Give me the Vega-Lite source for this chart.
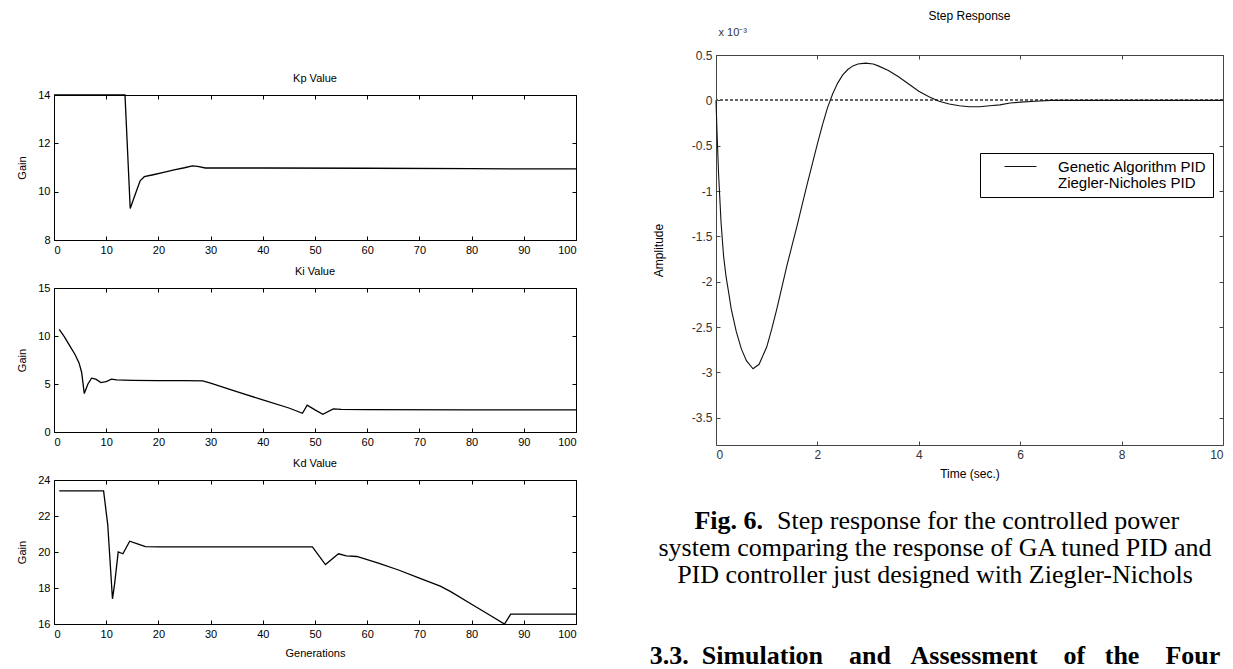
{
  "$schema": "https://vega.github.io/schema/vega-lite/v6.json",
  "padding": {"left": 16, "top": 9, "right": 0, "bottom": 0},
  "background": "white",
  "config": {
    "font": "Liberation Sans",
    "view": {"stroke": "black", "strokeWidth": 1},
    "axis": {
      "domain": false, "grid": false, "tickSize": -4, "tickColor": "black", "tickWidth": 1,
      "labelFont": "Liberation Sans", "labelFontSize": 11, "labelColor": "black", "labelPadding": 8,
      "titleFont": "Liberation Sans", "titleFontSize": 11, "titleFontWeight": "normal", "titleColor": "black"
    },
    "title": {"font": "Liberation Sans", "fontSize": 11, "fontWeight": "normal", "color": "black"}
  },
  "datasets": {
    "kp": [
      {"gen": 0, "gain": 14}, {"gen": 13.6, "gain": 14}, {"gen": 14.6, "gain": 9.3}, {"gen": 15.5, "gain": 9.85},
      {"gen": 16.5, "gain": 10.45}, {"gen": 17.3, "gain": 10.62}, {"gen": 19, "gain": 10.7}, {"gen": 21, "gain": 10.8},
      {"gen": 23, "gain": 10.9}, {"gen": 25, "gain": 10.99}, {"gen": 26.5, "gain": 11.07}, {"gen": 27.5, "gain": 11.05},
      {"gen": 29, "gain": 10.98}, {"gen": 40, "gain": 10.98}, {"gen": 60, "gain": 10.97}, {"gen": 80, "gain": 10.95},
      {"gen": 100, "gain": 10.94}
    ],
    "ki": [
      {"gen": 1, "gain": 10.7}, {"gen": 2, "gain": 9.9}, {"gen": 3, "gain": 9.0}, {"gen": 4, "gain": 8.1},
      {"gen": 4.8, "gain": 7.2}, {"gen": 5.3, "gain": 6.2}, {"gen": 5.8, "gain": 4.0}, {"gen": 6.5, "gain": 5.0},
      {"gen": 7.2, "gain": 5.6}, {"gen": 8, "gain": 5.5}, {"gen": 9, "gain": 5.15}, {"gen": 10, "gain": 5.25},
      {"gen": 11, "gain": 5.5}, {"gen": 12, "gain": 5.42}, {"gen": 15, "gain": 5.38}, {"gen": 20, "gain": 5.36},
      {"gen": 25, "gain": 5.35}, {"gen": 28.5, "gain": 5.33}, {"gen": 30, "gain": 5.1}, {"gen": 35, "gain": 4.2},
      {"gen": 40, "gain": 3.35}, {"gen": 45, "gain": 2.5}, {"gen": 47.6, "gain": 1.95}, {"gen": 48.5, "gain": 2.8},
      {"gen": 50, "gain": 2.3}, {"gen": 51.5, "gain": 1.85}, {"gen": 53.5, "gain": 2.4}, {"gen": 55, "gain": 2.35},
      {"gen": 60, "gain": 2.33}, {"gen": 80, "gain": 2.3}, {"gen": 100, "gain": 2.3}
    ],
    "kd": [
      {"gen": 1, "gain": 23.4}, {"gen": 9.5, "gain": 23.4}, {"gen": 10.3, "gain": 21.5}, {"gen": 11.2, "gain": 17.4},
      {"gen": 11.6, "gain": 18.2}, {"gen": 12.3, "gain": 20.0}, {"gen": 13.2, "gain": 19.9}, {"gen": 14.5, "gain": 20.6},
      {"gen": 16, "gain": 20.45}, {"gen": 17.5, "gain": 20.3}, {"gen": 20, "gain": 20.28}, {"gen": 30, "gain": 20.28},
      {"gen": 40, "gain": 20.28}, {"gen": 49.5, "gain": 20.28}, {"gen": 52, "gain": 19.3}, {"gen": 54.5, "gain": 19.9},
      {"gen": 56, "gain": 19.78}, {"gen": 58, "gain": 19.75}, {"gen": 62, "gain": 19.4}, {"gen": 66, "gain": 19.0},
      {"gen": 70, "gain": 18.55}, {"gen": 74, "gain": 18.1}, {"gen": 76, "gain": 17.8}, {"gen": 80, "gain": 17.1},
      {"gen": 84, "gain": 16.4}, {"gen": 86.3, "gain": 16.0}, {"gen": 87.5, "gain": 16.55}, {"gen": 100, "gain": 16.55}
    ],
    "step": [
      {"series": "Genetic Algorithm PID", "t": 0, "amp": 0},
      {"series": "Genetic Algorithm PID", "t": 0.02, "amp": -0.35},
      {"series": "Genetic Algorithm PID", "t": 0.05, "amp": -0.8},
      {"series": "Genetic Algorithm PID", "t": 0.1, "amp": -1.35},
      {"series": "Genetic Algorithm PID", "t": 0.15, "amp": -1.72},
      {"series": "Genetic Algorithm PID", "t": 0.2, "amp": -1.95},
      {"series": "Genetic Algorithm PID", "t": 0.25, "amp": -2.12},
      {"series": "Genetic Algorithm PID", "t": 0.3, "amp": -2.3},
      {"series": "Genetic Algorithm PID", "t": 0.4, "amp": -2.55},
      {"series": "Genetic Algorithm PID", "t": 0.5, "amp": -2.74},
      {"series": "Genetic Algorithm PID", "t": 0.6, "amp": -2.87},
      {"series": "Genetic Algorithm PID", "t": 0.73, "amp": -2.96},
      {"series": "Genetic Algorithm PID", "t": 0.85, "amp": -2.91},
      {"series": "Genetic Algorithm PID", "t": 1.0, "amp": -2.72},
      {"series": "Genetic Algorithm PID", "t": 1.1, "amp": -2.52},
      {"series": "Genetic Algorithm PID", "t": 1.2, "amp": -2.3},
      {"series": "Genetic Algorithm PID", "t": 1.3, "amp": -2.06},
      {"series": "Genetic Algorithm PID", "t": 1.4, "amp": -1.82},
      {"series": "Genetic Algorithm PID", "t": 1.5, "amp": -1.6},
      {"series": "Genetic Algorithm PID", "t": 1.6, "amp": -1.38},
      {"series": "Genetic Algorithm PID", "t": 1.7, "amp": -1.15},
      {"series": "Genetic Algorithm PID", "t": 1.8, "amp": -0.92},
      {"series": "Genetic Algorithm PID", "t": 1.9, "amp": -0.7},
      {"series": "Genetic Algorithm PID", "t": 2.0, "amp": -0.48},
      {"series": "Genetic Algorithm PID", "t": 2.1, "amp": -0.27},
      {"series": "Genetic Algorithm PID", "t": 2.2, "amp": -0.08},
      {"series": "Genetic Algorithm PID", "t": 2.3, "amp": 0.07},
      {"series": "Genetic Algorithm PID", "t": 2.4, "amp": 0.19},
      {"series": "Genetic Algorithm PID", "t": 2.5, "amp": 0.28},
      {"series": "Genetic Algorithm PID", "t": 2.6, "amp": 0.34},
      {"series": "Genetic Algorithm PID", "t": 2.7, "amp": 0.38},
      {"series": "Genetic Algorithm PID", "t": 2.8, "amp": 0.4},
      {"series": "Genetic Algorithm PID", "t": 2.95, "amp": 0.41},
      {"series": "Genetic Algorithm PID", "t": 3.1, "amp": 0.4},
      {"series": "Genetic Algorithm PID", "t": 3.2, "amp": 0.38},
      {"series": "Genetic Algorithm PID", "t": 3.4, "amp": 0.33},
      {"series": "Genetic Algorithm PID", "t": 3.6, "amp": 0.26},
      {"series": "Genetic Algorithm PID", "t": 3.8, "amp": 0.18},
      {"series": "Genetic Algorithm PID", "t": 4.0, "amp": 0.1},
      {"series": "Genetic Algorithm PID", "t": 4.2, "amp": 0.04},
      {"series": "Genetic Algorithm PID", "t": 4.4, "amp": -0.01},
      {"series": "Genetic Algorithm PID", "t": 4.6, "amp": -0.04},
      {"series": "Genetic Algorithm PID", "t": 4.8, "amp": -0.06},
      {"series": "Genetic Algorithm PID", "t": 5.0, "amp": -0.07},
      {"series": "Genetic Algorithm PID", "t": 5.2, "amp": -0.07},
      {"series": "Genetic Algorithm PID", "t": 5.4, "amp": -0.06},
      {"series": "Genetic Algorithm PID", "t": 5.6, "amp": -0.05},
      {"series": "Genetic Algorithm PID", "t": 5.8, "amp": -0.03},
      {"series": "Genetic Algorithm PID", "t": 6.0, "amp": -0.02},
      {"series": "Genetic Algorithm PID", "t": 6.3, "amp": -0.01},
      {"series": "Genetic Algorithm PID", "t": 6.6, "amp": 0},
      {"series": "Genetic Algorithm PID", "t": 10, "amp": 0}
    ],
    "caption": [
      {"part": "figlabel", "line": 1, "text": "Fig. 6."},
      {"part": "figrest", "line": 1, "text": "Step response for the controlled power"},
      {"part": "caption", "line": 2, "text": "system comparing the response of GA tuned PID and"},
      {"part": "caption", "line": 3, "text": "PID controller just designed with Ziegler-Nichols"},
      {"part": "heading", "line": 6, "text": "3.3.\u00a0\u00a0Simulation\u00a0\u00a0\u00a0\u00a0and\u00a0\u00a0\u00a0Assessment\u00a0\u00a0\u00a0\u00a0of\u00a0\u00a0\u00a0the\u00a0\u00a0\u00a0\u00a0Four"}
    ]
  },
  "spacing": 69,
  "resolve": {"scale": {"color": "independent"}, "legend": {"color": "independent"}},
  "hconcat": [
    {
      "bounds": "flush",
      "spacing": 39,
      "vconcat": [
        {
          "width": 522, "height": 1,
          "view": {"stroke": null},
          "data": {"values": [{}]},
          "mark": {"type": "text", "text": ""}
        },
        {
          "bounds": "flush",
          "spacing": 48,
          "vconcat": [
            {
              "width": 522, "height": 145,
              "title": {"text": "Kp Value", "offset": 5},
              "data": {"name": "kp"},
              "layer": [
                {
                  "mark": {"type": "line", "color": "black", "strokeWidth": 1.3},
                  "encoding": {
                    "x": {"field": "gen", "type": "quantitative", "scale": {"domain": [0, 100], "nice": false},
                          "axis": {"orient": "bottom", "values": [0, 10, 20, 30, 40, 50, 60, 70, 80, 90, 100], "title": null}},
                    "y": {"field": "gain", "type": "quantitative", "scale": {"domain": [8, 14], "nice": false, "zero": false},
                          "axis": {"orient": "left", "values": [8, 10, 12, 14], "title": "Gain", "titlePadding": 10}}
                  }
                },
                {
                  "mark": {"type": "line", "opacity": 0},
                  "encoding": {
                    "x": {"field": "gen", "type": "quantitative", "scale": {"domain": [0, 100], "nice": false},
                          "axis": {"orient": "top", "values": [0, 10, 20, 30, 40, 50, 60, 70, 80, 90, 100], "labels": false, "title": null}},
                    "y": {"field": "gain", "type": "quantitative", "scale": {"domain": [8, 14], "nice": false, "zero": false},
                          "axis": {"orient": "right", "values": [8, 10, 12, 14], "labels": false, "title": null}}
                  }
                }
              ],
              "resolve": {"axis": {"x": "independent", "y": "independent"}}
            },
            {
              "width": 522, "height": 144,
              "title": {"text": "Ki Value", "offset": 5},
              "data": {"name": "ki"},
              "layer": [
                {
                  "mark": {"type": "line", "color": "black", "strokeWidth": 1.3},
                  "encoding": {
                    "x": {"field": "gen", "type": "quantitative", "scale": {"domain": [0, 100], "nice": false},
                          "axis": {"orient": "bottom", "values": [0, 10, 20, 30, 40, 50, 60, 70, 80, 90, 100], "title": null}},
                    "y": {"field": "gain", "type": "quantitative", "scale": {"domain": [0, 15], "nice": false, "zero": false},
                          "axis": {"orient": "left", "values": [0, 5, 10, 15], "title": "Gain", "titlePadding": 10}}
                  }
                },
                {
                  "mark": {"type": "line", "opacity": 0},
                  "encoding": {
                    "x": {"field": "gen", "type": "quantitative", "scale": {"domain": [0, 100], "nice": false},
                          "axis": {"orient": "top", "values": [0, 10, 20, 30, 40, 50, 60, 70, 80, 90, 100], "labels": false, "title": null}},
                    "y": {"field": "gain", "type": "quantitative", "scale": {"domain": [0, 15], "nice": false, "zero": false},
                          "axis": {"orient": "right", "values": [0, 5, 10, 15], "labels": false, "title": null}}
                  }
                }
              ],
              "resolve": {"axis": {"x": "independent", "y": "independent"}}
            },
            {
              "width": 522, "height": 144,
              "title": {"text": "Kd Value", "offset": 5},
              "data": {"name": "kd"},
              "layer": [
                {
                  "mark": {"type": "line", "color": "black", "strokeWidth": 1.3},
                  "encoding": {
                    "x": {"field": "gen", "type": "quantitative", "scale": {"domain": [0, 100], "nice": false},
                          "axis": {"orient": "bottom", "values": [0, 10, 20, 30, 40, 50, 60, 70, 80, 90, 100], "title": "Generations", "titlePadding": 8}},
                    "y": {"field": "gain", "type": "quantitative", "scale": {"domain": [16, 24], "nice": false, "zero": false},
                          "axis": {"orient": "left", "values": [16, 18, 20, 22, 24], "title": "Gain", "titlePadding": 10}}
                  }
                },
                {
                  "mark": {"type": "line", "opacity": 0},
                  "encoding": {
                    "x": {"field": "gen", "type": "quantitative", "scale": {"domain": [0, 100], "nice": false},
                          "axis": {"orient": "top", "values": [0, 10, 20, 30, 40, 50, 60, 70, 80, 90, 100], "labels": false, "title": null}},
                    "y": {"field": "gain", "type": "quantitative", "scale": {"domain": [16, 24], "nice": false, "zero": false},
                          "axis": {"orient": "right", "values": [16, 18, 20, 22, 24], "labels": false, "title": null}}
                  }
                }
              ],
              "resolve": {"axis": {"x": "independent", "y": "independent"}}
            }
          ]
        }
      ]
    },
    {
      "bounds": "flush",
      "spacing": 0,
      "resolve": {"scale": {"color": "independent"}, "legend": {"color": "independent"}},
      "vconcat": [
        {
          "width": 507, "height": 390,
          "view": {"stroke": "#444444"},
          "title": {"text": "Step Response", "fontSize": 12, "offset": 3},
          "data": {"name": "step"},
          "layer": [
            {
              "mark": {"type": "rule", "color": "#666666", "strokeDash": [3, 2], "strokeWidth": 1},
              "encoding": {
                "y": {"datum": 0, "type": "quantitative", "scale": {"domain": [-3.8, 0.5], "nice": false, "zero": false}, "axis": null}
              }
            },
            {
              "mark": {"type": "line", "strokeWidth": 1.1},
              "encoding": {
                "x": {"field": "t", "type": "quantitative", "scale": {"domain": [0, 10], "nice": false},
                      "axis": {"orient": "bottom", "values": [0, 2, 4, 6, 8, 10], "title": "Time (sec.)", "titleFontSize": 12, "titlePadding": 8, "labelFontSize": 12, "labelColor": "#333333", "tickColor": "#444444"}},
                "y": {"field": "amp", "type": "quantitative", "scale": {"domain": [-3.8, 0.5], "nice": false, "zero": false},
                      "axis": {"orient": "left", "values": [0.5, 0, -0.5, -1, -1.5, -2, -2.5, -3, -3.5], "labelExpr": "'' + datum.value", "title": "Amplitude", "titleFontSize": 12, "titlePadding": 26, "labelFontSize": 12, "labelColor": "#333333", "tickColor": "#444444"}},
                "color": {"field": "series", "type": "nominal",
                          "scale": {"domain": ["Genetic Algorithm PID", "Ziegler-Nicholes PID"], "range": ["#111111", "#ffffff"]},
                          "legend": {"orient": "none", "legendX": 264, "legendY": 98, "title": null,
                                     "strokeColor": "black", "fillColor": "white", "padding": 6,
                                     "symbolType": "M-4,0H4", "symbolSize": 64, "symbolStrokeWidth": 1, "symbolOffset": 27,
                                     "labelFontSize": 15, "labelOffset": 30, "labelFont": "Liberation Sans", "labelColor": "black", "rowPadding": 0}}
              }
            },
            {
              "mark": {"type": "line", "opacity": 0},
              "encoding": {
                "x": {"field": "t", "type": "quantitative", "scale": {"domain": [0, 10], "nice": false},
                      "axis": {"orient": "top", "values": [0, 2, 4, 6, 8, 10], "labels": false, "tickColor": "#444444", "title": "x 10⁻³", "titleAnchor": "start", "titleAlign": "left", "titleX": 2, "titleY": -18, "titleFontSize": 11, "titleColor": "#333333"}},
                "y": {"field": "amp", "type": "quantitative", "scale": {"domain": [-3.8, 0.5], "nice": false, "zero": false},
                      "axis": {"orient": "right", "values": [0.5, 0, -0.5, -1, -1.5, -2, -2.5, -3, -3.5], "labels": false, "title": null, "tickColor": "#444444"}}
              }
            }
          ],
          "resolve": {"axis": {"x": "independent", "y": "independent"}}
        },
        {
          "width": 438, "height": 224,
          "view": {"stroke": null},
          "data": {"name": "caption"},
          "encoding": {
            "y": {"field": "line", "type": "quantitative", "scale": {"domain": [-1.815, 6.481], "nice": false, "zero": false, "reverse": true}, "axis": null},
            "text": {"field": "text"}
          },
          "layer": [
            {
              "transform": [{"filter": "datum.part == 'figlabel'"}],
              "mark": {"type": "text", "font": "Liberation Serif", "fontSize": 26, "fontWeight": "bold", "align": "right", "baseline": "middle", "dx": -172, "color": "black"}
            },
            {
              "transform": [{"filter": "datum.part == 'figrest'"}],
              "mark": {"type": "text", "font": "Liberation Serif", "fontSize": 26, "align": "left", "baseline": "middle", "dx": -158, "color": "black"}
            },
            {
              "transform": [{"filter": "datum.part == 'caption'"}],
              "mark": {"type": "text", "font": "Liberation Serif", "fontSize": 26, "align": "center", "baseline": "middle", "color": "black"}
            },
            {
              "transform": [{"filter": "datum.part == 'heading'"}],
              "mark": {"type": "text", "font": "Liberation Serif", "fontSize": 26, "fontWeight": "bold", "align": "center", "baseline": "middle", "color": "black"}
            }
          ]
        }
      ]
    }
  ]
}
